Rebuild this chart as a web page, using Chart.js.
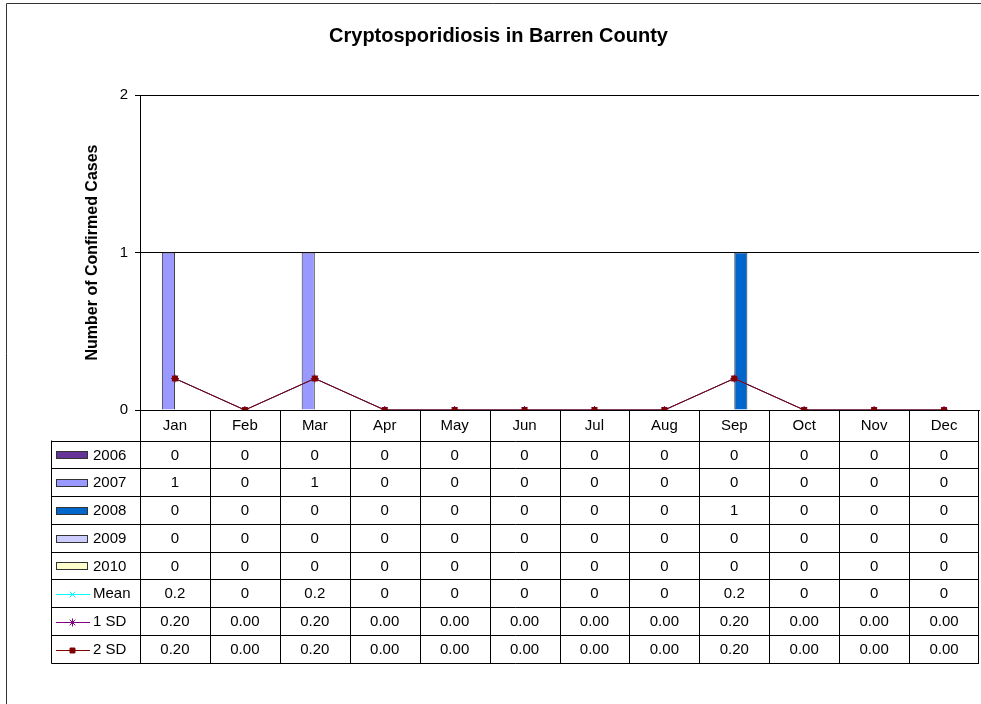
<!DOCTYPE html>
<html>
<head>
<meta charset="utf-8">
<script src="https://cdn.jsdelivr.net/npm/chart.js@4/dist/chart.umd.min.js"></script>
<style>
  html, body { margin: 0; padding: 0; background: #fff; }
  #chart { display: block; }
</style>
</head>
<body>
<canvas id="chart" width="981" height="704"></canvas>
<script>
// data
var months = ['Jan', 'Feb', 'Mar', 'Apr', 'May', 'Jun', 'Jul', 'Aug', 'Sep', 'Oct', 'Nov', 'Dec'];
var cases2006 = [0, 0, 0, 0, 0, 0, 0, 0, 0, 0, 0, 0];
var cases2007 = [1, 0, 1, 0, 0, 0, 0, 0, 0, 0, 0, 0];
var cases2008 = [0, 0, 0, 0, 0, 0, 0, 0, 1, 0, 0, 0];
var cases2009 = [0, 0, 0, 0, 0, 0, 0, 0, 0, 0, 0, 0];
var cases2010 = [0, 0, 0, 0, 0, 0, 0, 0, 0, 0, 0, 0];
var meanCases = [0.2, 0, 0.2, 0, 0, 0, 0, 0, 0.2, 0, 0, 0];
var oneSD = [0.2, 0, 0.2, 0, 0, 0, 0, 0, 0.2, 0, 0, 0];
var twoSD = [0.2, 0, 0.2, 0, 0, 0, 0, 0, 0.2, 0, 0, 0];
var yTicks = [0, 1, 2];

var FONT = 'Arial, "Liberation Sans", sans-serif';

// draws the frame and the data table under the plot
var tablePlugin = {
    id: 'dataTable',
    beforeDraw: function (chart) {
        var ctx = chart.ctx;
        ctx.save();
        ctx.strokeStyle = '#333';
        ctx.lineWidth = 1;
        ctx.beginPath();
        ctx.moveTo(6.5, 704);
        ctx.lineTo(6.5, 3.5);
        ctx.lineTo(981, 3.5);
        ctx.stroke();
        ctx.restore();
    },
    afterDraw: function (chart) {
        var ctx = chart.ctx;
        var area = chart.chartArea;
        var xs = chart.scales.x;
        var colW = (area.right - area.left) / months.length;
        var headTop = Math.round(area.bottom) + 0.5;
        var headBottom = headTop + 30;
        var tableLeft = 51.5;
        var rowH = 27.75;
        var rows = [
            { label: '2006', ds: 0, text: function (v) { return String(v); } },
            { label: '2007', ds: 1, text: function (v) { return String(v); } },
            { label: '2008', ds: 2, text: function (v) { return String(v); } },
            { label: '2009', ds: 3, text: function (v) { return String(v); } },
            { label: '2010', ds: 4, text: function (v) { return String(v); } },
            { label: 'Mean', ds: 5, text: function (v) { return String(v); } },
            { label: '1 SD', ds: 6, text: function (v) { return v.toFixed(2); } },
            { label: '2 SD', ds: 7, text: function (v) { return v.toFixed(2); } }
        ];
        var tableBottom = headBottom + rowH * rows.length;

        ctx.save();
        ctx.strokeStyle = '#000';
        ctx.lineWidth = 1;
        ctx.beginPath();
        // header row
        ctx.moveTo(area.left, headTop);
        ctx.lineTo(area.right, headTop);
        // horizontal lines
        for (var r = 0; r <= rows.length; r++) {
            var y = Math.round(headBottom + r * rowH) + 0.5;
            ctx.moveTo(tableLeft, y);
            ctx.lineTo(area.right, y);
        }
        // vertical lines
        for (var c = 0; c <= months.length; c++) {
            var x = Math.round(area.left + c * colW) + 0.5;
            if (c === months.length) x = Math.round(area.right) - 0.5;
            ctx.moveTo(x, headTop);
            ctx.lineTo(x, Math.round(tableBottom) + 0.5);
        }
        ctx.moveTo(tableLeft, headBottom);
        ctx.lineTo(tableLeft, Math.round(tableBottom) + 0.5);
        ctx.stroke();

        ctx.font = '15px ' + FONT;
        ctx.textBaseline = 'middle';
        rows.forEach(function (row, r) {
            var ds = chart.data.datasets[row.ds];
            var cy = headBottom + r * rowH + rowH / 2 + 1;
            // legend key
            if (ds.type === 'line') {
                ctx.strokeStyle = ds.borderColor;
                ctx.beginPath();
                ctx.moveTo(56, Math.round(cy) + 0.5);
                ctx.lineTo(90, Math.round(cy) + 0.5);
                ctx.stroke();
                ctx.fillStyle = ds.pointBackgroundColor;
                Chart.helpers.drawPoint(ctx, {
                    pointStyle: ds.pointStyle,
                    radius: ds.pointRadius,
                    borderWidth: 1,
                    rotation: 0
                }, 72.5, Math.round(cy) + 0.5);
            } else {
                ctx.fillStyle = ds.backgroundColor;
                ctx.fillRect(56, Math.round(cy) - 4, 32, 8);
                ctx.strokeStyle = '#333';
                ctx.strokeRect(56.5, Math.round(cy) - 3.5, 31, 7);
            }
            ctx.fillStyle = '#000';
            ctx.textAlign = 'left';
            ctx.fillText(row.label, 93, cy);
            ctx.textAlign = 'center';
            ds.data.forEach(function (v, i) {
                ctx.fillText(row.text(v), xs.getPixelForValue(i), cy);
            });
        });
        ctx.restore();
    }
};

var ctx = document.getElementById('chart').getContext('2d');

new Chart(ctx, {
    type: 'bar',
    data: {
        labels: months,
        datasets: [
            { label: '2006', data: cases2006, backgroundColor: '#663399', borderColor: '#333', borderWidth: 1, order: 3 },
            { label: '2007', data: cases2007, backgroundColor: '#9999FF', borderColor: '#333', borderWidth: 1, order: 3 },
            { label: '2008', data: cases2008, backgroundColor: '#0066CC', borderColor: '#333', borderWidth: 1, order: 3 },
            { label: '2009', data: cases2009, backgroundColor: '#CCCCFF', borderColor: '#333', borderWidth: 1, order: 3 },
            { label: '2010', data: cases2010, backgroundColor: '#FFFFCC', borderColor: '#333', borderWidth: 1, order: 3, grouped: false },
            {
                type: 'line', label: 'Mean', data: meanCases, order: 2,
                borderColor: '#00FFFF', borderWidth: 1,
                pointStyle: 'crossRot', pointRadius: 4,
                pointBorderColor: '#00FFFF', pointBackgroundColor: '#00FFFF'
            },
            {
                type: 'line', label: '1 SD', data: oneSD, order: 1,
                borderColor: '#800080', borderWidth: 1,
                pointStyle: 'star', pointRadius: 4,
                pointBorderColor: '#800080', pointBackgroundColor: '#800080'
            },
            {
                type: 'line', label: '2 SD', data: twoSD, order: 0,
                borderColor: '#800000', borderWidth: 1,
                pointStyle: 'rect', pointRadius: 3.5,
                pointBorderColor: '#800000', pointBackgroundColor: '#800000'
            }
        ]
    },
    options: {
        responsive: false,
        animation: false,
        events: [],
        layout: { autoPadding: false, padding: { left: 18, right: 2, top: 0, bottom: 264 } },
        datasets: {
            bar: { categoryPercentage: 0.75, barPercentage: 1 }
        },
        plugins: {
            legend: { display: false },
            tooltip: { enabled: false },
            title: {
                display: true,
                text: 'Cryptosporidiosis in Barren County',
                color: '#000',
                font: { family: FONT, size: 20, weight: 'bold' },
                padding: { top: 24, bottom: 47 }
            }
        },
        scales: {
            x: {
                grid: { display: false, drawTicks: false },
                border: { display: true, color: '#000' },
                ticks: { color: '#000', font: { family: FONT, size: 15 }, padding: 7, maxRotation: 0 },
                afterFit: function (scale) {
                    scale.height = 30;
                    scale.paddingLeft = 0;
                    scale.paddingRight = 0;
                }
            },
            y: {
                min: 0,
                max: 2,
                afterBuildTicks: function (scale) {
                    scale.ticks = yTicks.map(function (v) { return { value: v }; });
                },
                grid: { color: '#000', tickLength: 5, drawTicks: true },
                border: { display: true, color: '#000' },
                ticks: { color: '#000', font: { family: FONT, size: 15 }, padding: 7 },
                title: {
                    display: true,
                    text: 'Number of Confirmed Cases',
                    color: '#000',
                    font: { family: FONT, size: 16, weight: 'bold' },
                    padding: { top: 65 }
                },
                afterFit: function (scale) { scale.width = 122; }
            }
        }
    },
    plugins: [tablePlugin]
});
</script>
</body>
</html>
